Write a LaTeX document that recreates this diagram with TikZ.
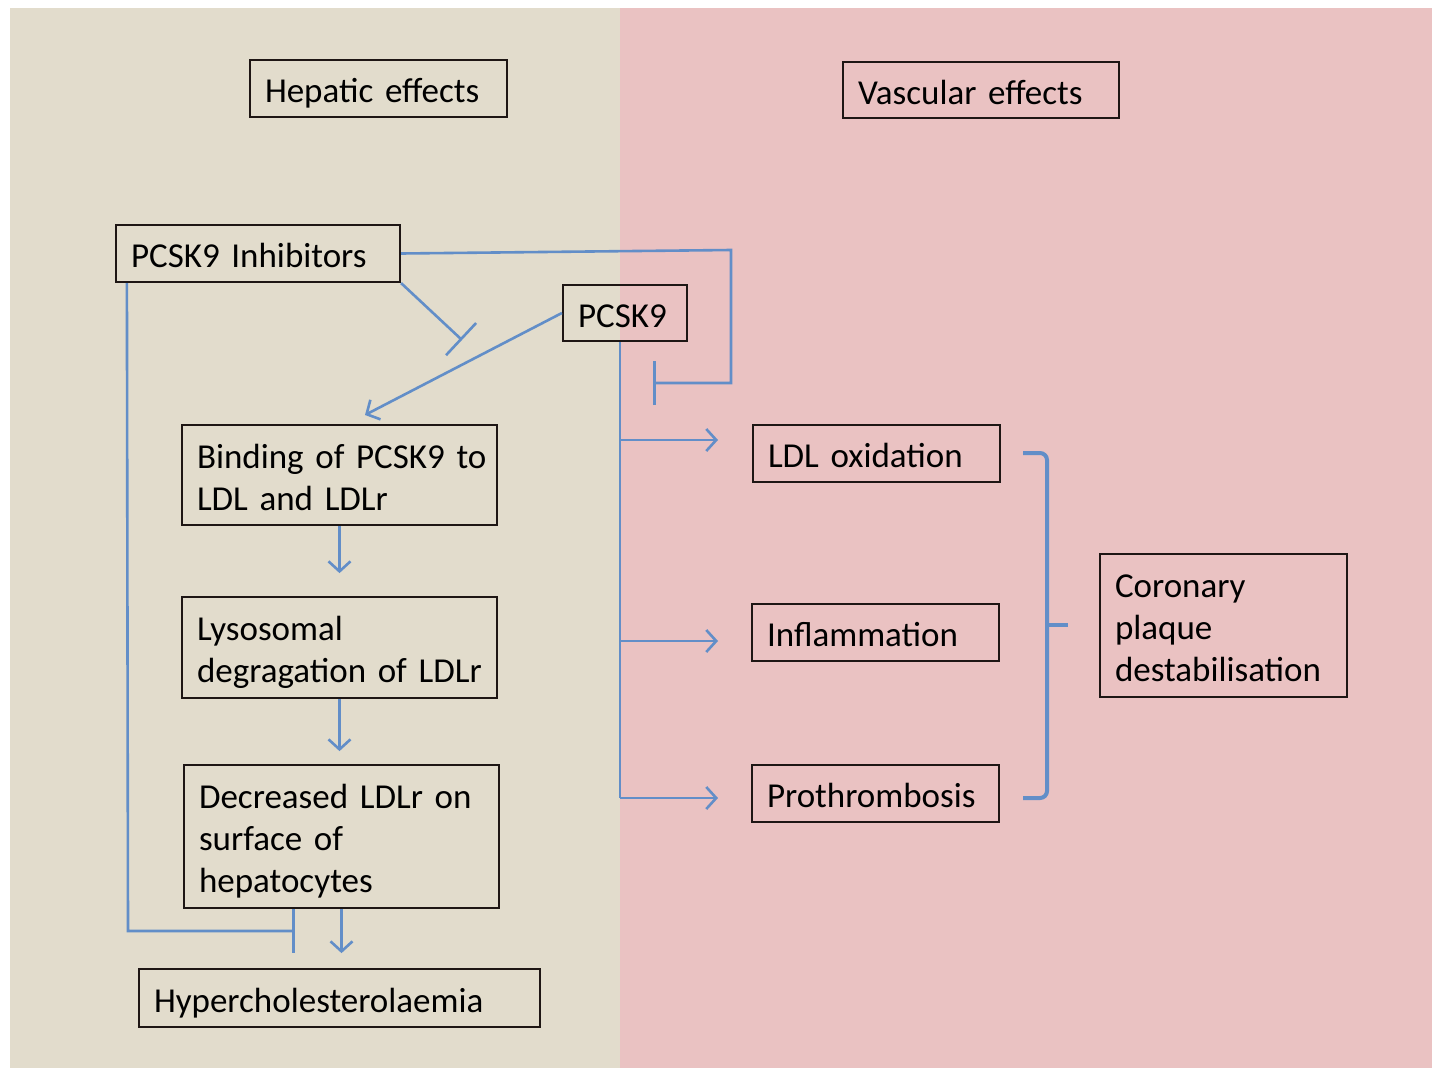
\documentclass[tikz,border=0pt]{standalone}
\usepackage{fontspec}
\setmainfont{Carlito}[WordSpace=0.85]
\usetikzlibrary{arrows.meta}
\definecolor{beigebg}{RGB}{226,220,204}
\definecolor{pinkbg}{RGB}{234,194,194}
\definecolor{flow}{RGB}{98,142,200}
\definecolor{boxline}{RGB}{30,22,20}
\begin{document}
\begin{tikzpicture}[x=1pt,y=-1pt,
  box/.style={draw=boxline, line width=2.2pt, inner xsep=15pt, inner ysep=0pt,
    align=left, anchor=center, font=\fontsize{35}{42}\selectfont},
  oneline/.style={text height=28pt, text depth=0pt},
  twolines/.style={text height=28pt, text depth=42pt},
  threelines/.style={text height=28pt, text depth=84pt},
  link/.style={draw=flow, line width=2.6pt},
  arr/.style={link, -{Straight Barb[length=10pt,width=22pt,line width=2.6pt]}},
  blunt/.style={link, -{Bar[width=44pt,line width=2.6pt]}}
]
\useasboundingbox (0,0) rectangle (1432,1068);
\fill[beigebg] (10,8) rectangle (620,1068);
\fill[pinkbg] (620,8) rectangle (1432,1068);

\node[box, oneline, minimum width=257pt, minimum height=57pt, text width=227pt] (hep) at (378.5,88.5) {Hepatic effects};
\node[box, oneline, minimum width=276pt, minimum height=56pt, text width=246pt] (vasc) at (981,90) {Vascular effects};
\node[box, oneline, minimum width=284pt, minimum height=57pt, text width=254pt] (inh) at (258,253.5) {PCSK9 Inhibitors};
\node[box, oneline, minimum width=124pt, minimum height=56pt, text width=94pt] (pcsk) at (625,313) {PCSK9};
\node[box, twolines, minimum width=315pt, minimum height=100pt, text width=285pt] (bind) at (339.5,475) {\mbox{Binding of PCSK9 to}\\LDL and LDLr};
\node[box, twolines, minimum width=315pt, minimum height=101pt, text width=285pt] (lyso) at (339.5,647.5) {Lysosomal\\\mbox{degragation of LDLr}};
\node[box, threelines, minimum width=315pt, minimum height=143pt, text width=285pt] (decr) at (341.5,836.5) {\mbox{Decreased LDLr on}\\surface of\\hepatocytes};
\node[box, oneline, minimum width=401pt, minimum height=58pt, text width=371pt] (hyper) at (339.5,998) {Hypercholesterolaemia};
\node[box, oneline, minimum width=247pt, minimum height=57pt, text width=217pt] (ldl) at (876.5,453.5) {LDL oxidation};
\node[box, oneline, minimum width=247pt, minimum height=57pt, text width=217pt] (infl) at (875.5,632.5) {Inflammation};
\node[box, oneline, minimum width=247pt, minimum height=57pt, text width=217pt] (proth) at (875.5,793.5) {Prothrombosis};
\node[box, threelines, minimum width=247pt, minimum height=143pt, text width=217pt] (coro) at (1223.5,625.5) {Coronary\\plaque\\destabilisation};

% free ends
\coordinate (bindin) at (365,415);
\coordinate (blockA) at (462,340);
\coordinate (cornerA) at (731,250);
\coordinate (cornerB) at (731,383);
\coordinate (blockB) at (653,383);
\coordinate (leftdown) at (128,931);
\coordinate (blockC) at (295,931);
\coordinate (trunkend) at (620,798);
\coordinate (br1) at (620,440);
\coordinate (br2) at (620,641);
\coordinate (tip1) at (718,440);
\coordinate (tip2) at (718,641);
\coordinate (tip3) at (718,798);

% hepatic pathway
\draw[arr] (pcsk.west) -- (bindin);
\draw[blunt] (inh.south east) -- (blockA);
\draw[arr] (bind.south) -- ++(0,47);
\draw[arr] (lyso.south) -- ++(0,52);
\draw[arr] (decr.south) -- ++(0,44);
\draw[blunt] ([xshift=12pt]inh.south west) -- (leftdown) -- (blockC);

% vascular pathway
\draw[blunt] (inh.east) -- (cornerA) -- (cornerB) -- (blockB);
\draw[link] ([xshift=-5pt]pcsk.south) -- (trunkend);
\draw[arr] (br1) -- (tip1);
\draw[arr] (br2) -- (tip2);
\draw[arr] (trunkend) -- (tip3);

% bracket
\coordinate (bk1) at (1023,453);
\coordinate (bk2) at (1047,453);
\coordinate (bk3) at (1047,798);
\coordinate (bk4) at (1023,798);
\coordinate (bkm) at (1047,625);
\coordinate (bkt) at (1068,625);
\draw[draw=flow, line width=4pt, rounded corners=7pt] (bk1) -- (bk2) -- (bk3) -- (bk4);
\draw[draw=flow, line width=4pt] (bkm) -- (bkt);
\end{tikzpicture}
\end{document}
